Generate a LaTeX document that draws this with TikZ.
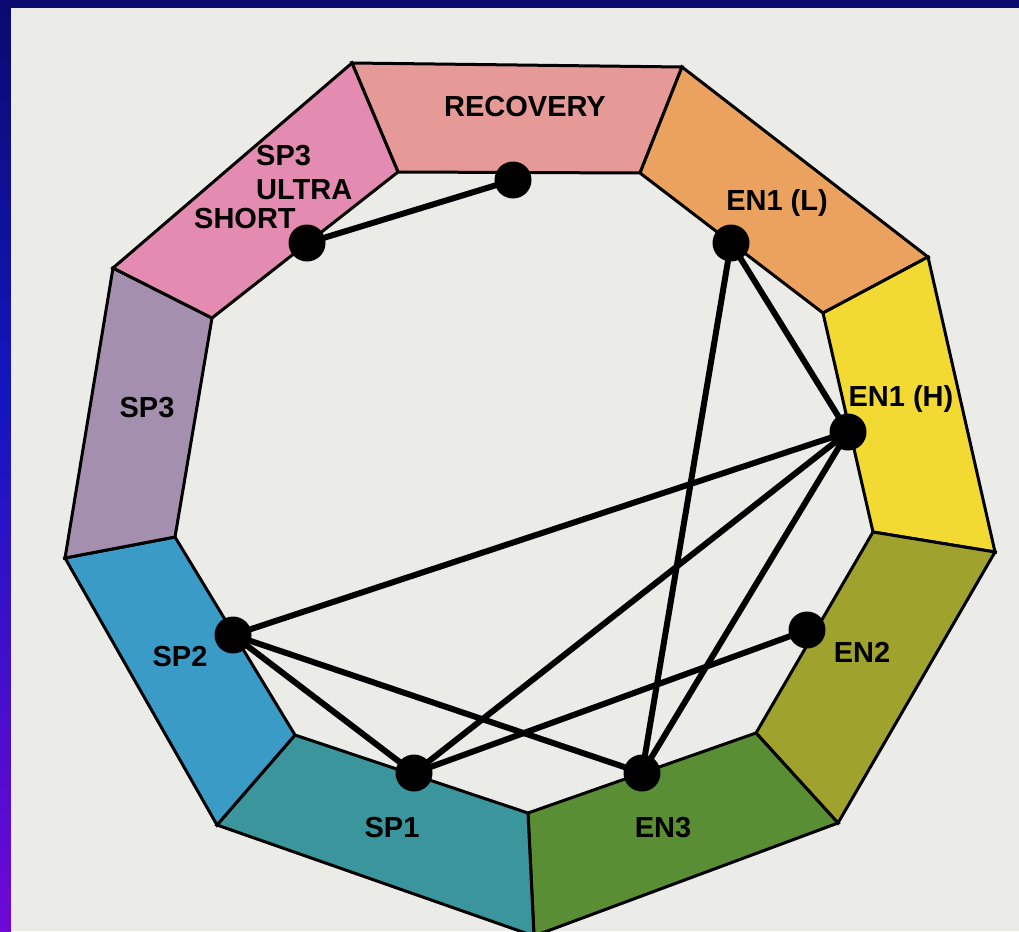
\documentclass[tikz,border=0pt]{standalone}
\usepackage{fontspec}
\setmainfont{Liberation Sans}
\definecolor{paper}{HTML}{EBEBE8}
\definecolor{navy}{HTML}{0A0A70}
\definecolor{frblue}{HTML}{1515C0}
\definecolor{frpurp}{HTML}{7008D8}
\definecolor{cRec}{HTML}{E59A98}
\definecolor{cENL}{HTML}{EBA25E}
\definecolor{cENH}{HTML}{F2DA32}
\definecolor{cENtwo}{HTML}{9FA22C}
\definecolor{cENthree}{HTML}{5A8E34}
\definecolor{cSPone}{HTML}{3B959C}
\definecolor{cSPtwo}{HTML}{3A9BC6}
\definecolor{cSPthree}{HTML}{A58FAE}
\definecolor{cUS}{HTML}{E38BB0}
\begin{document}
\begin{tikzpicture}[x=1pt,y=-1pt,
  seg/.style={draw=black,line width=3pt,line join=miter},
  link/.style={draw=black,line width=6pt,line cap=round},
  dot/.style={circle,fill=black,minimum size=37pt,inner sep=0pt},
  lab/.style={font=\fontsize{29}{32}\selectfont\bfseries,inner sep=0pt,align=left}]
\useasboundingbox (0,0) rectangle (1019,931);
\clip (0,0) rectangle (1019,931);
\fill[paper] (0,0) rectangle (1019,931);
% frame
\foreach \i in {0,...,19}{
  \pgfmathsetmacro{\pc}{100-\i*100/19}
  \fill[navy!\pc!frblue] (0,{\i*20}) rectangle (11,{\i*20+21});
}
\foreach \i in {0,...,27}{
  \pgfmathsetmacro{\pc}{100-\i*100/27}
  \fill[frblue!\pc!frpurp] (0,{400+\i*19.5}) rectangle (11,{400+\i*19.5+20.5});
}
\fill[navy] (0,0) rectangle (1019,8);
% ring coordinates
\coordinate (O1) at (352,63);
\coordinate (O2) at (682,67);
\coordinate (O3) at (928,257);
\coordinate (O4) at (995,552);
\coordinate (O5) at (838,823);
\coordinate (O6) at (534,936);
\coordinate (O7) at (217,825);
\coordinate (O8) at (65,558);
\coordinate (O9) at (113,268);
\coordinate (I1) at (398,172);
\coordinate (I2) at (640,173);
\coordinate (I3) at (823,313);
\coordinate (I4) at (873,532);
\coordinate (I5) at (756,733);
\coordinate (I6) at (528,813);
\coordinate (I7) at (295,735);
\coordinate (I8) at (175,537);
\coordinate (I9) at (212,318);
% segments
\filldraw[seg,fill=cRec] (O1) -- (O2) -- (I2) -- (I1) -- cycle;
\filldraw[seg,fill=cENL] (O2) -- (O3) -- (I3) -- (I2) -- cycle;
\filldraw[seg,fill=cENH] (O3) -- (O4) -- (I4) -- (I3) -- cycle;
\filldraw[seg,fill=cENtwo] (O4) -- (O5) -- (I5) -- (I4) -- cycle;
\filldraw[seg,fill=cENthree] (O5) -- (O6) -- (I6) -- (I5) -- cycle;
\filldraw[seg,fill=cSPone] (O6) -- (O7) -- (I7) -- (I6) -- cycle;
\filldraw[seg,fill=cSPtwo] (O7) -- (O8) -- (I8) -- (I7) -- cycle;
\filldraw[seg,fill=cSPthree] (O8) -- (O9) -- (I9) -- (I8) -- cycle;
\filldraw[seg,fill=cUS] (O9) -- (O1) -- (I1) -- (I9) -- cycle;
% labels
\node[lab] (tRec) at (525,107) {RECOVERY};
\node[lab,anchor=west] (tUSa) at (256,156) {SP3};
\node[lab,anchor=west] (tUSb) at (256,190) {ULTRA};
\node[lab,anchor=west] (tUSc) at (194,219) {SHORT};
\node[lab] (tENL) at (777,203) {EN1 (L)};
\node[lab] (tENH) at (901,399) {EN1 (H)};
\node[lab] (tSPthree) at (147,408) {SP3};
\node[lab] (tSPtwo) at (180,657) {SP2};
\node[lab] (tENtwo) at (862,652) {EN2};
\node[lab] (tSPone) at (392,828) {SP1};
\node[lab] (tENthree) at (663,828) {EN3};
% dots
\node[dot] (rec) at (513,180) {};
\node[dot] (us) at (307,243) {};
\node[dot] (enl) at (731,243) {};
\node[dot] (enh) at (848,432) {};
\node[dot] (entwo) at (807,630) {};
\node[dot] (enthree) at (642,773) {};
\node[dot] (spone) at (414,773) {};
\node[dot] (sptwo) at (233,635) {};
% links
\draw[link] (rec.center) -- (us.center);
\draw[link] (enl.center) -- (enh.center);
\draw[link] (enl.center) -- (enthree.center);
\draw[link] (enh.center) -- (sptwo.center);
\draw[link] (enh.center) -- (spone.center);
\draw[link] (enh.center) -- (enthree.center);
\draw[link] (entwo.center) -- (spone.center);
\draw[link] (sptwo.center) -- (spone.center);
\draw[link] (sptwo.center) -- (enthree.center);
\end{tikzpicture}
\end{document}
